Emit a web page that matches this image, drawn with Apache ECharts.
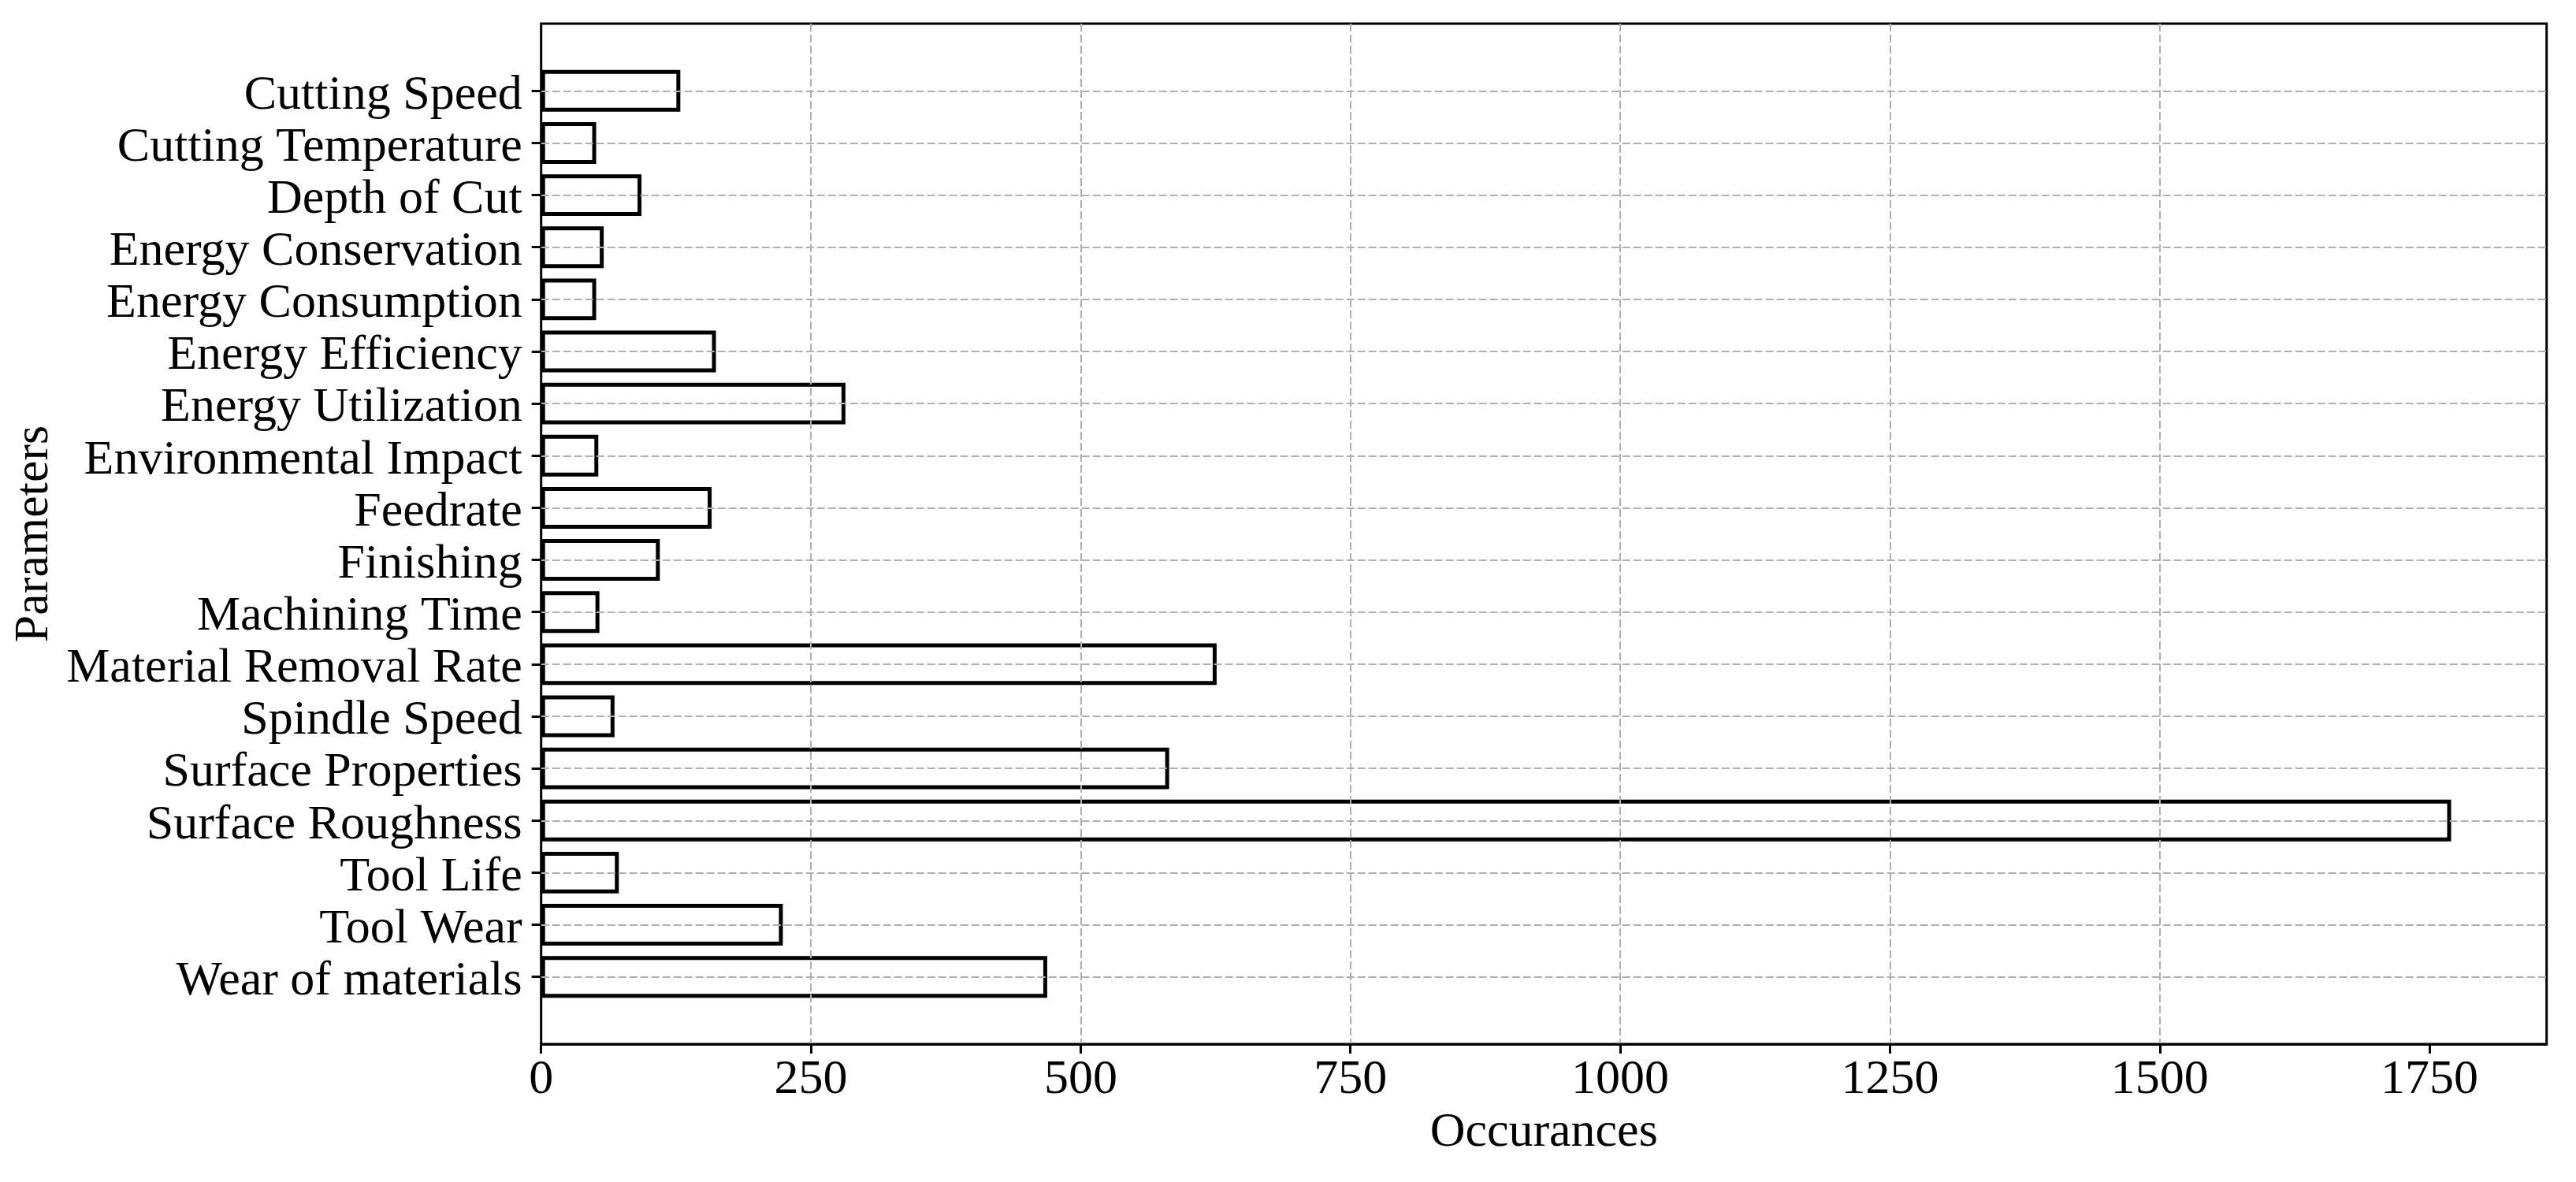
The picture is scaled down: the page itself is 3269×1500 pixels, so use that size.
<!DOCTYPE html>
<html><head><meta charset="utf-8">
<script src="https://cdn.jsdelivr.net/npm/echarts@6/dist/echarts.min.js"></script>
<style>html,body{margin:0;padding:0;background:#fff}#c{width:3269px;height:1500px}</style>
</head><body><div id="c"></div>
<script>
const categories = ["Cutting Speed","Cutting Temperature","Depth of Cut","Energy Conservation","Energy Consumption","Energy Efficiency","Energy Utilization","Environmental Impact","Feedrate","Finishing","Machining Time","Material Removal Rate","Spindle Speed","Surface Properties","Surface Roughness","Tool Life","Tool Wear","Wear of materials"];
const occurrences = [129, 51, 93, 58, 51, 162, 282, 53, 158, 110, 54, 626, 68, 582, 1770, 72, 224, 469];
const xTicks = [0, 250, 500, 750, 1000, 1250, 1500, 1750];
const xMax = 1858.5;

const FONT = 'Liberation Serif';
const gridDash = {color: '#b0b0b0', width: 2, type: [10, 4]};
const chart = echarts.init(document.getElementById('c'), null, {renderer: 'canvas'});
const option = {
  animation: false,
  backgroundColor: '#ffffff',
  grid: [
    {left: 686.7, top: 30, width: 2545, height: 1295, show: true, borderColor: '#000', borderWidth: 3,
     backgroundColor: 'transparent', containLabel: false, outerBoundsMode: 'none'},
    {left: 686.7, top: 115.3, width: 2545, height: 1124.4, show: false, containLabel: false, outerBoundsMode: 'none'}
  ],
  xAxis: [
    {gridIndex: 0, type: 'value', min: 0, max: xMax, interval: 250, z: 3,
     name: 'Occurances', nameLocation: 'middle', nameGap: 82,
     nameTextStyle: {fontFamily: FONT, fontSize: 62, color: '#000'},
     axisLine: {show: true, lineStyle: {color: '#000', width: 3}},
     axisTick: {show: true, length: 12, lineStyle: {color: '#000', width: 3}, customValues: xTicks},
     axisLabel: {fontFamily: FONT, fontSize: 62, color: '#000', margin: 15, customValues: xTicks,
                 formatter: function (v) { return String(v); }},
     splitLine: {show: true, showMinLine: false, showMaxLine: false, lineStyle: gridDash}
    },
    {gridIndex: 1, type: 'value', min: 0, max: xMax, show: false}
  ],
  yAxis: [
    {gridIndex: 0, type: 'value', min: 0, max: 1, show: false},
    {gridIndex: 1, type: 'category', data: categories, inverse: true, boundaryGap: false, z: 3,
     name: 'Parameters', nameLocation: 'middle', nameGap: 612, nameRotate: 90, nameMoveOverlap: false,
     nameTextStyle: {fontFamily: FONT, fontSize: 62, color: '#000'},
     axisLine: {show: false},
     axisTick: {show: true, interval: 0, length: 12, lineStyle: {color: '#000', width: 3}},
     axisLabel: {interval: 0, fontFamily: FONT, fontSize: 62, color: '#000', margin: 24,
                 formatter: function (v) { return '{l|' + v + '}'; },
                 rich: {l: {fontFamily: FONT, fontSize: 62, color: '#000', padding: [12, 0, 0, 0]}}},
     splitLine: {show: true, interval: 0, lineStyle: gridDash}
    }
  ],
  series: [{
    type: 'bar', xAxisIndex: 1, yAxisIndex: 1, data: occurrences, barWidth: '80%', silent: true,
    itemStyle: {color: 'rgba(0,0,0,0)', borderColor: '#000', borderWidth: 5}
  }]
};
chart.setOption(option);
</script></body></html>
